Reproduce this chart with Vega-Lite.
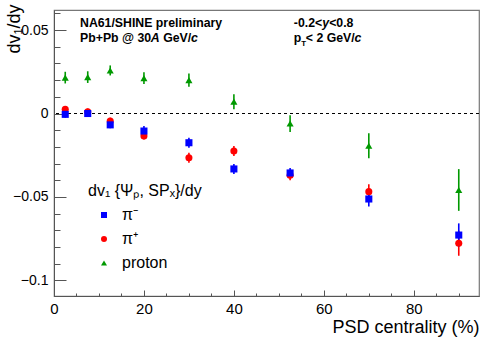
{
  "$schema": "https://vega.github.io/schema/vega-lite/v6.json",
  "width": 425,
  "height": 286,
  "autosize": {"type": "none"},
  "padding": {"left": 54, "top": 10, "right": 12, "bottom": 51},
  "background": "white",
  "datasets": {
    "pts": [
      {"species": "π⁺", "x": 2.5, "y": 0.0025, "err": 0.002},
      {"species": "π⁺", "x": 7.5, "y": 0.001, "err": 0.002},
      {"species": "π⁺", "x": 12.5, "y": -0.0045, "err": 0.002},
      {"species": "π⁺", "x": 20, "y": -0.0135, "err": 0.002},
      {"species": "π⁺", "x": 30, "y": -0.0265, "err": 0.003},
      {"species": "π⁺", "x": 40, "y": -0.0225, "err": 0.003},
      {"species": "π⁺", "x": 52.5, "y": -0.037, "err": 0.003},
      {"species": "π⁺", "x": 70, "y": -0.0468, "err": 0.0045},
      {"species": "π⁺", "x": 90, "y": -0.0777, "err": 0.0075},
      {"species": "π⁻", "x": 2.5, "y": -0.0005, "err": 0.002},
      {"species": "π⁻", "x": 7.5, "y": 0.0, "err": 0.002},
      {"species": "π⁻", "x": 12.5, "y": -0.0068, "err": 0.002},
      {"species": "π⁻", "x": 20, "y": -0.0105, "err": 0.003},
      {"species": "π⁻", "x": 30, "y": -0.0175, "err": 0.003},
      {"species": "π⁻", "x": 40, "y": -0.0332, "err": 0.003},
      {"species": "π⁻", "x": 52.5, "y": -0.0356, "err": 0.003},
      {"species": "π⁻", "x": 70, "y": -0.0512, "err": 0.0045},
      {"species": "π⁻", "x": 90, "y": -0.0728, "err": 0.007},
      {"species": "proton", "x": 2.5, "y": 0.0215, "err": 0.0035},
      {"species": "proton", "x": 7.5, "y": 0.0218, "err": 0.0035},
      {"species": "proton", "x": 12.5, "y": 0.0258, "err": 0.003},
      {"species": "proton", "x": 20, "y": 0.0212, "err": 0.0035},
      {"species": "proton", "x": 30, "y": 0.02, "err": 0.004},
      {"species": "proton", "x": 40, "y": 0.0071, "err": 0.0045},
      {"species": "proton", "x": 52.5, "y": -0.006, "err": 0.005},
      {"species": "proton", "x": 70, "y": -0.0193, "err": 0.0075},
      {"species": "proton", "x": 90, "y": -0.0458, "err": 0.0125}
    ],
    "zero": [{"y": 0}],
    "notesBold": [
      {"x": 5.78, "y": 0.0518, "t": "NA61/SHINE preliminary"},
      {"x": 5.78, "y": 0.0428, "t": "Pb+Pb @ 30"},
      {"x": 24.27, "y": 0.0428, "t": "GeV/"},
      {"x": 53.33, "y": 0.0518, "t": "-0.2<"},
      {"x": 61.18, "y": 0.0518, "t": "<0.8"},
      {"x": 53.33, "y": 0.0428, "t": "p"},
      {"x": 56.0, "y": 0.0428, "t": "< 2 GeV/"}
    ],
    "notesItalic": [
      {"x": 21.53, "y": 0.0428, "t": "A"},
      {"x": 30.46, "y": 0.0428, "t": "c"},
      {"x": 59.67, "y": 0.0518, "t": "y"},
      {"x": 66.8, "y": 0.0428, "t": "c"}
    ],
    "notesSub": [
      {"x": 54.95, "y": 0.0405, "t": "T"}
    ]
  },
  "layer": [
    {
      "data": {"name": "zero"},
      "mark": {"type": "rule", "strokeDash": [3, 3], "color": "black", "strokeWidth": 1},
      "encoding": {
        "y": {"field": "y", "type": "quantitative", "title": "dv₁/dy"}
      }
    },
    {
      "data": {"name": "pts"},
      "transform": [{"filter": "datum.species === 'π⁺'"}],
      "mark": {"type": "errorbar", "thickness": 1.6, "color": "#ff0000"},
      "encoding": {
        "x": {"field": "x", "type": "quantitative", "title": "PSD centrality (%)"},
        "y": {"field": "y", "type": "quantitative", "title": "dv₁/dy"},
        "yError": {"field": "err"}
      }
    },
    {
      "data": {"name": "pts"},
      "transform": [{"filter": "datum.species === 'π⁻'"}],
      "mark": {"type": "errorbar", "thickness": 1.6, "color": "#0000ff"},
      "encoding": {
        "x": {"field": "x", "type": "quantitative", "title": "PSD centrality (%)"},
        "y": {"field": "y", "type": "quantitative", "title": "dv₁/dy"},
        "yError": {"field": "err"}
      }
    },
    {
      "data": {"name": "pts"},
      "transform": [{"filter": "datum.species === 'proton'"}],
      "mark": {"type": "errorbar", "thickness": 1.6, "color": "#009900"},
      "encoding": {
        "x": {"field": "x", "type": "quantitative", "title": "PSD centrality (%)"},
        "y": {"field": "y", "type": "quantitative", "title": "dv₁/dy"},
        "yError": {"field": "err"}
      }
    },
    {
      "data": {"name": "pts"},
      "mark": {"type": "point", "filled": true, "opacity": 1, "size": 50},
      "encoding": {
        "x": {
          "field": "x", "type": "quantitative",
          "scale": {"domain": [0, 94.5], "nice": false, "zero": false},
          "axis": {
            "values": [0, 5, 10, 15, 20, 25, 30, 35, 40, 45, 50, 55, 60, 65, 70, 75, 80, 85, 90],
            "tickCount": 200,
            "format": "d",
            "labelExpr": "datum.value % 20 === 0 ? datum.label : ''",
            "tickSize": {"condition": {"test": "datum.value % 20 === 0", "value": -6}, "value": -3},
            "labelPadding": 11,
            "labelFontSize": 15,
            "labelFlush": false,
            "labelOverlap": false,
            "labelBaseline": "top",
            "title": "PSD centrality (%)",
            "titleFontSize": 18,
            "titleAnchor": "end",
            "titleAlign": "right",
            "titleBaseline": "alphabetic",
            "titleX": 425,
            "titleY": 36
          }
        },
        "y": {
          "field": "y", "type": "quantitative",
          "scale": {"domain": [-0.1093, 0.062], "nice": false, "zero": false},
          "axis": {
            "values": [-0.1, -0.09, -0.08, -0.07, -0.06, -0.05, -0.04, -0.03, -0.02, -0.01, 0, 0.01, 0.02, 0.03, 0.04, 0.05, 0.06],
            "tickCount": 200,
            "format": "~g",
            "labelExpr": "(datum.value === 0 || datum.value === 0.05 || datum.value === -0.05 || datum.value === -0.1) ? datum.label : ''",
            "tickSize": {"condition": {"test": "datum.value === 0 || datum.value === 0.05 || datum.value === -0.05 || datum.value === -0.1", "value": -12}, "value": -6},
            "labelPadding": 18,
            "labelFontSize": 14,
            "labelFlush": false,
            "labelOverlap": false,
            "labelBaseline": "middle",
            "title": "dv₁/dy",
            "titleFontSize": 18,
            "titleAngle": 270,
            "titleAlign": "right",
            "titleBaseline": "alphabetic",
            "titleX": -35,
            "titleY": -6
          }
        },
        "color": {"field": "species", "type": "nominal",
          "scale": {"domain": ["π⁻", "π⁺", "proton"], "range": ["#0000ff", "#ff0000", "#009900"]},
          "legend": {
            "title": "dv₁ {Ψₚ, SPₓ}/dy",
            "orient": "none",
            "legendX": 34,
            "legendY": 173,
            "padding": 0,
            "titleFontSize": 16,
            "titleFontWeight": "normal",
            "titlePadding": 8,
            "labelFontSize": 16,
            "symbolSize": 36,
            "symbolOffset": 8,
            "labelOffset": 10,
            "rowPadding": 8
          }
        },
        "shape": {"field": "species", "type": "nominal",
          "scale": {"domain": ["π⁻", "π⁺", "proton"], "range": ["square", "circle", "triangle-up"]},
          "legend": {
            "title": "dv₁ {Ψₚ, SPₓ}/dy",
            "orient": "none",
            "legendX": 34,
            "legendY": 173,
            "padding": 0,
            "titleFontSize": 16,
            "titleFontWeight": "normal",
            "titlePadding": 8,
            "labelFontSize": 16,
            "symbolSize": 36,
            "symbolOffset": 8,
            "labelOffset": 10,
            "rowPadding": 8
          }
        }
      }
    },
    {
      "data": {"name": "notesBold"},
      "mark": {"type": "text", "align": "left", "baseline": "alphabetic", "fontWeight": "bold", "fontSize": 12.3},
      "encoding": {
        "x": {"field": "x", "type": "quantitative"},
        "y": {"field": "y", "type": "quantitative"},
        "text": {"field": "t"}
      }
    },
    {
      "data": {"name": "notesItalic"},
      "mark": {"type": "text", "align": "left", "baseline": "alphabetic", "fontWeight": "bold", "fontStyle": "italic", "fontSize": 12.3},
      "encoding": {
        "x": {"field": "x", "type": "quantitative"},
        "y": {"field": "y", "type": "quantitative"},
        "text": {"field": "t"}
      }
    },
    {
      "data": {"name": "notesSub"},
      "mark": {"type": "text", "align": "left", "baseline": "alphabetic", "fontWeight": "bold", "fontSize": 8},
      "encoding": {
        "x": {"field": "x", "type": "quantitative"},
        "y": {"field": "y", "type": "quantitative"},
        "text": {"field": "t"}
      }
    }
  ],
  "config": {
    "font": "Liberation Sans",
    "view": {"stroke": "#777", "strokeWidth": 1.2},
    "axis": {
      "grid": false,
      "domainColor": "#555",
      "tickColor": "#555",
      "labelColor": "#000",
      "titleColor": "#000",
      "titleFontWeight": "normal",
      "labelFont": "Liberation Sans",
      "titleFont": "Liberation Sans"
    },
    "legend": {"labelColor": "#000", "titleColor": "#000", "labelFont": "Liberation Sans", "titleFont": "Liberation Sans"}
  }
}
